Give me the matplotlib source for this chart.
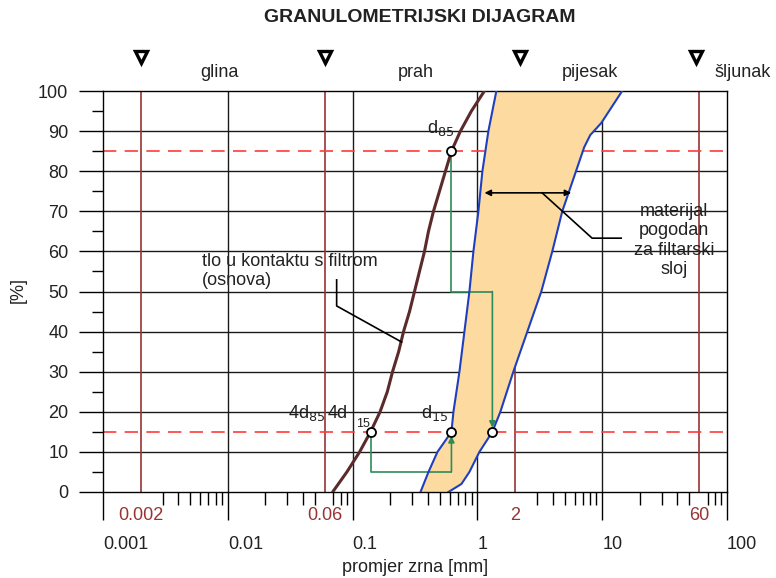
"""Granulometric diagram: base soil grading curve and the filter band."""

import matplotlib
matplotlib.use("Agg")
import matplotlib.pyplot as plt
from matplotlib.transforms import blended_transform_factory

plt.rcParams.update({"font.family": "Liberation Sans", "font.size": 13})

# Base soil ("tlo u kontaktu s filtrom") grading curve: grain size [mm], passing [%]
soil_d = [0.0692, 0.0900, 0.1138, 0.1393, 0.1660, 0.1897, 0.2089, 0.2339,
          0.2559, 0.2858, 0.3133, 0.3435, 0.3767, 0.4055, 0.4446, 0.4966,
          0.5546, 0.6194, 0.7311, 0.8954, 1.138]
soil_p = [0, 5, 10, 15, 20, 25, 30, 35, 40, 45, 50, 55, 60, 65, 70, 75, 80,
          85, 90, 95, 100]

# Filter band, fine boundary
fine_d = [0.3499, 0.4055, 0.4786, 0.6194, 0.6427, 0.7178, 0.7870, 0.8630,
          0.9290, 1.0186, 1.0965, 1.2246, 1.4191]
fine_p = [0, 5, 10, 15, 20, 30, 40, 50, 60, 70, 80, 90, 100]

# Filter band, coarse boundary
coarse_d = [0.5861, 0.7447, 0.8630, 1.0375, 1.3183, 1.5276, 1.9409, 2.5119,
            3.2509, 3.9811, 4.7863, 7.1779, 8.0168, 9.8175, 14.454]
coarse_p = [0, 2, 5, 10, 15, 20, 30, 40, 50, 60, 70, 86, 89, 92, 100]

# Characteristic points (d15, d85 and the 4x criteria)
pts_d = [0.1393, 0.6194, 1.3183, 0.6194]
pts_p = [15, 15, 15, 85]

# Fraction boundaries [mm] and their labels
bounds = [0.002, 0.06, 2, 60]
bound_labels = ["0.002", "0.06", "2", "60"]
marker_d = [0.002, 0.06, 2.2, 56.5]
fractions = ["glina", "prah", "pijesak"]
fraction_d = [0.00863, 0.319, 8.02]
decades = [0.001, 0.01, 0.1, 1, 10, 100]
decade_labels = ["0.001", "0.01", "0.1", "1", "10", "100"]

BROWN = "#5b2b2b"
BLUE = "#1f3fbf"
FILL = "#fddba0"
GREEN = "#2e8b57"
DARK_RED = "#993333"
DASH_RED = "#ff3b3b"
TEXT = "#222222"

fig = plt.figure(figsize=(7.76, 5.78), dpi=100)
ax = fig.add_axes([103 / 776, 1 - 492 / 578, 624 / 776, 401 / 578])
ax.set_xscale("log")
ax.set_xlim(0.001, 100)
ax.set_ylim(0, 100)

# grid
for y in range(10, 100, 10):
    ax.axhline(y, color="#1a1a1a", lw=1.0, zorder=1)
for d in decades[1:-1]:
    ax.axvline(d, color="#1a1a1a", lw=1.0, zorder=1)
for d in bounds:
    ax.axvline(d, color=DARK_RED, lw=1.2, zorder=1)
for y in (15, 85):
    ax.axhline(y, color=DASH_RED, lw=1.2, dashes=(8, 5), zorder=1)

# filter band
ax.fill(fine_d + coarse_d[::-1], fine_p + coarse_p[::-1], color=FILL, lw=0, zorder=2)

# construction lines
ax.plot([pts_d[0], pts_d[0], pts_d[1]], [15, 5, 5], color=GREEN, lw=1.2, zorder=3)
ax.annotate("", xy=(pts_d[1], 15), xytext=(pts_d[1], 5),
            arrowprops=dict(arrowstyle="-|>", color=GREEN, lw=1.2, mutation_scale=9,
                            shrinkA=0, shrinkB=3), zorder=3)
ax.plot([pts_d[3], pts_d[3], pts_d[2]], [85, 50, 50], color=GREEN, lw=1.2, zorder=3)
ax.annotate("", xy=(pts_d[2], 15), xytext=(pts_d[2], 50),
            arrowprops=dict(arrowstyle="-|>", color=GREEN, lw=1.2, mutation_scale=9,
                            shrinkA=0, shrinkB=3), zorder=3)

ax.plot(soil_d, soil_p, color=BROWN, lw=2.2, zorder=4, solid_capstyle="round",
        solid_joinstyle="round")
ax.plot(fine_d, fine_p, color=BLUE, lw=1.5, zorder=4)
ax.plot(coarse_d, coarse_p, color=BLUE, lw=1.5, zorder=4)
ax.plot(pts_d, pts_p, "o", ms=6.5, mfc="white", mec="black", mew=1.3, zorder=5,
        linestyle="none")

# annotations
ax.annotate("", xy=(5.65, 74.6), xytext=(1.14, 74.6),
            arrowprops=dict(arrowstyle="<|-|>", color="black", lw=1.2, mutation_scale=9,
                            shrinkA=0, shrinkB=0), zorder=5)
ax.plot([3.3, 8.3, 14.2], [74.6, 63.3, 63.3], color="black", lw=1.2, zorder=5)
ax.plot([0.0745, 0.0745, 0.247], [52.9, 46.4, 37.4], color="black", lw=1.2, zorder=5)
ax.text(0.00619, 55.1, "tlo u kontaktu s filtrom\n(osnova)", ha="left", va="center",
        color=TEXT, fontsize=13, linespacing=1.15, zorder=6)
ax.text(37.7, 62.7, "materijal\npogodan\nza filtarski\nsloj", ha="center", va="center",
        color=TEXT, fontsize=13, linespacing=1.2, zorder=6)
ax.text(0.391, 89.5, "d$_{85}$", ha="left", va="baseline", color=TEXT, fontsize=13, zorder=6)
ax.text(0.0302, 18.5, "4d$_{85}$", ha="left", va="baseline", color=TEXT, fontsize=13, zorder=6)
ax.text(0.0631, 18.5, "4d", ha="left", va="baseline", color=TEXT, fontsize=13, zorder=6)
ax.text(0.107, 16.2, "15", ha="left", va="baseline", color=TEXT, fontsize=9, zorder=6)
ax.text(0.3565, 18.5, "d$_{15}$", ha="left", va="baseline", color=TEXT, fontsize=13, zorder=6)

# fraction markers above the plot
ax.plot(marker_d, [108.5] * len(marker_d), "v", ms=9, mfc="white", mec="black",
        mew=2.4, clip_on=False, linestyle="none")
for name, d in zip(fractions, fraction_d):
    ax.text(d, 104.7, name, ha="center", va="center", color=TEXT, clip_on=False)
ax.text(78.7, 104.7, "šljunak", ha="left", va="center", color=TEXT, clip_on=False)

# axes styling
for s in ax.spines.values():
    s.set_color("black")
    s.set_linewidth(1.0)
ax.set_xticks(decades, decade_labels)
minor = [m * d for d in decades[:-1] for m in range(2, 10)]
minor = [x for x in minor if not any(abs(x / b - 1) < 1e-6 for b in bounds)]
ax.set_xticks(minor, minor=True)
ax.set_xticklabels([], minor=True)
ax.tick_params(axis="x", which="major", length=20, width=1.0, pad=12, labelsize=13,
               labelcolor=TEXT)
ax.tick_params(axis="x", which="minor", length=9, width=1.0)
for lab in ax.get_xticklabels():
    lab.set_horizontalalignment("left")
ax.set_yticks(range(0, 101, 10))
ax.set_yticks(range(5, 100, 10), minor=True)
ax.tick_params(axis="y", which="major", length=17, width=1.0, pad=8, labelsize=13,
               labelcolor=TEXT)
ax.tick_params(axis="y", which="minor", length=8, width=1.0)

trans = blended_transform_factory(ax.transData, ax.transAxes)
for b, lab in zip(bounds, bound_labels):
    ax.text(b, -0.0574, lab, transform=trans, ha="center", va="center",
            color=DARK_RED, fontsize=13)

fig.text(420 / 776, 1 - 17 / 578, "GRANULOMETRIJSKI DIJAGRAM", ha="center", va="center",
         fontsize=14, fontweight="bold", color=TEXT)
fig.text(18 / 776, 1 - 290 / 578, "[%]", rotation=90, ha="center", va="center",
         color=TEXT, fontsize=13)
fig.text(415 / 776, 1 - 568 / 578, "promjer zrna [mm]", ha="center", va="center",
         color=TEXT, fontsize=13)

fig.savefig("out.png", dpi=100)
